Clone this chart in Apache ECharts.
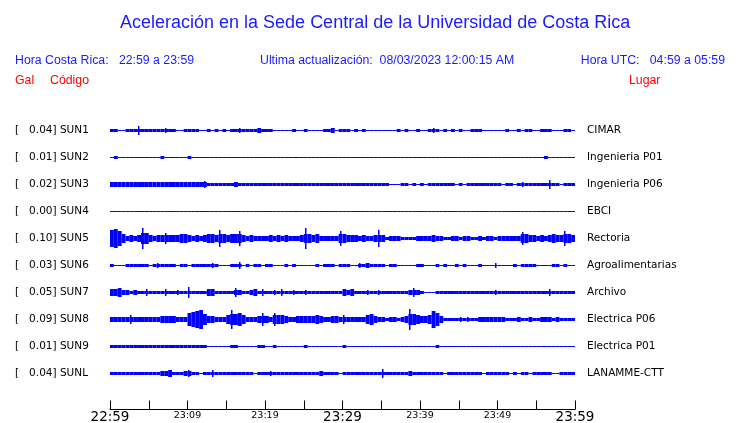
<!DOCTYPE html>
<html>
<head>
<meta charset="utf-8">
<script src="https://cdn.jsdelivr.net/npm/echarts@6/dist/echarts.min.js"></script>
<style>
  html, body { margin: 0; padding: 0; background: #fff; }
  #chart { width: 740px; height: 423px; }
</style>
</head>
<body>
<div id="chart"></div>
<script>
const stations = ['SUN1', 'SUN2', 'SUN3', 'SUN4', 'SUN5', 'SUN6', 'SUN7', 'SUN8', 'SUN9', 'SUNL']
const places = ['CIMAR', 'Ingenieria P01', 'Ingenieria P06', 'EBCI', 'Rectoria',
  'Agroalimentarias', 'Archivo', 'Electrica P06', 'Electrica P01', 'LANAMME-CTT']
const peaks = ['0.04', '0.01', '0.02', '0.00', '0.10', '0.03', '0.05', '0.09', '0.01', '0.04']
const timeLabels = ['22:59', '23:09', '23:19', '23:29', '23:39', '23:49', '23:59']

// envelope (half amplitude) per 30 s window, in thousandths of Gal
const sun1 = [10,10,8,0,15,17,17,47,17,15, 15,15,15,15,25,15,12,0,8,12, 10,12,10,8,0,10,0,12,0,12,
  0,18,15,25,12,12,10,12,20,12, 12,12,0,8,0,8,0,10,0,8, 12,8,0,8,0,10,10,20,8,10,
  10,10,8,10,8,12,0,0,0,0, 0,8,0,0,12,8,10,0,0,10, 0,8,10,25,10,8,10,8,10,8,
  10,0,8,12,12,10,0,8,8,8, 0,0,10,8,0,12,8,10,12,0, 8,10,10,10,8,0,8,14,14,8]
const sun2 = [0,10,8,5,5,0,0,0,0,0, 0,0,0,15,0,0,0,0,0,8, 10,0,0,0,0,0,0,0,0,0,
  0,0,0,0,0,0,0,0,0,0, 0,0,0,0,0,0,0,0,0,0, 0,0,0,0,0,0,0,0,0,0,
  0,0,0,0,0,0,0,0,0,0, 0,0,0,0,0,0,0,0,0,0, 0,0,0,0,0,0,0,0,0,0,
  0,0,0,0,0,0,0,0,0,0, 0,0,0,0,0,0,0,0,0,0, 0,0,15,0,0,0,0,0,0,0]
const sun3 = [20,27,20,20,20,20,20,20,25,20, 20,20,20,20,20,25,20,20,20,20, 20,20,20,20,30,18,18,18,18,18,
  18,18,25,18,18,18,18,18,18,12, 12,12,12,12,12,12,10,12,15,15, 15,15,10,15,15,15,15,15,12,15,
  15,15,15,15,15,15,12,15,12,12, 15,12,0,8,8,12,12,8,12,0, 12,0,10,15,15,15,12,12,10,0,
  12,8,10,12,15,12,10,12,10,12, 10,8,12,12,0,15,25,15,12,12, 10,15,15,40,12,10,0,15,15,15]
const sun4 = [0,0,0,0,0,0,0,0,0,0, 0,0,0,0,0,0,0,0,0,0, 0,0,0,0,0,0,0,0,0,0,
  0,0,0,0,0,0,0,0,0,0, 0,0,0,0,0,0,0,0,0,0, 0,0,0,0,0,0,0,0,0,0,
  0,0,0,0,0,0,0,0,0,0, 0,0,0,0,0,0,0,0,0,0, 0,0,0,0,0,0,0,0,0,0,
  0,0,0,0,0,0,0,0,0,0, 0,0,0,0,0,0,0,0,0,0, 0,0,0,0,0,0,0,0,0,0]
const sun5 = [85,90,70,40,28,30,28,30,100,50, 32,28,30,30,50,33,33,38,45,42, 30,28,30,28,35,45,48,35,80,40,
  38,42,48,70,32,25,30,28,24,24, 26,30,24,32,26,30,24,22,22,35, 100,40,38,45,28,25,25,28,28,70,
  45,32,30,30,28,30,28,28,30,85, 35,18,25,28,22,18,18,17,18,25, 28,25,28,30,28,20,18,18,25,20,
  18,20,25,18,18,20,18,25,22,18, 25,20,28,22,20,22,65,40,32,30, 28,30,28,35,40,38,30,75,40,32]
const sun6 = [10,5,8,8,13,18,10,10,10,10, 5,15,27,10,10,17,10,8,10,10, 8,10,10,12,17,12,27,12,8,5,
  8,13,15,33,5,10,5,10,10,5, 12,12,0,8,5,12,5,17,0,5, 8,0,8,10,0,10,10,12,5,12,
  12,12,5,0,27,10,20,15,10,12, 10,8,10,10,0,5,0,0,0,18, 15,0,0,0,10,8,10,0,0,10,
  0,10,0,0,0,12,0,8,0,27, 8,0,0,0,10,0,12,12,10,17, 5,0,0,8,10,10,0,10,0,8]
const sun7 = [35,30,40,22,20,15,20,15,15,33, 15,15,15,18,33,15,15,27,15,15, 55,15,15,15,18,30,30,15,15,15,
  15,18,40,25,15,15,25,30,15,30, 15,15,25,15,33,15,15,25,15,15, 25,15,15,15,13,13,15,13,15,15,
  30,25,30,15,15,15,25,15,15,27, 15,15,13,13,13,13,13,25,40,20, 10,5,8,5,10,12,12,12,12,12,
  12,12,10,12,12,10,12,12,15,25, 15,12,12,12,12,12,12,10,12,17, 12,12,12,33,12,12,10,17,12,12]
const sun8 = [25,22,25,22,22,40,20,22,25,22, 20,25,22,33,35,33,30,25,22,20, 60,70,85,95,50,30,35,20,28,20,
  45,90,55,60,40,25,28,25,35,65, 35,25,65,45,40,30,28,25,30,33, 35,30,35,40,30,20,25,35,30,28,
  40,25,22,22,22,25,40,55,30,25, 20,18,20,20,18,20,35,100,55,40, 35,35,40,80,60,35,17,17,17,17,
  25,17,25,17,18,28,22,20,20,25, 20,20,18,18,17,22,17,17,22,17, 17,22,22,20,17,22,17,17,17,17]
const sun9 = [10,10,10,10,10,10,10,10,10,10, 10,10,10,10,10,10,10,10,10,10, 10,10,10,10,10,5,8,0,0,0,
  5,10,10,8,5,8,0,0,10,10, 5,8,10,0,8,0,0,0,0,0, 10,5,5,0,0,0,5,8,8,5,
  10,0,0,5,5,0,8,8,0,0, 0,0,0,0,0,0,0,8,8,5, 0,0,0,8,10,0,0,0,0,0,
  0,0,0,0,0,5,0,0,0,0, 0,0,0,0,0,0,8,0,0,0, 0,5,5,0,0,0,0,0,0,0]
const sunL = [17,17,17,17,17,17,17,17,17,17, 17,17,17,20,28,30,18,17,17,20, 33,12,10,8,12,15,33,12,10,12,
  12,12,10,12,12,12,12,8,12,12, 12,27,12,12,12,12,12,12,12,12, 12,12,12,12,20,12,12,12,12,5,
  10,12,12,12,12,12,12,12,12,12, 40,12,12,12,12,12,12,20,12,12, 12,12,12,12,12,10,8,12,12,10,
  12,12,10,12,12,12,5,12,12,12, 12,12,12,5,12,8,10,12,5,10, 17,12,12,12,5,8,12,12,12,10]

const traces = [sun1, sun2, sun3, sun4, sun5, sun6, sun7, sun8, sun9, sunL]
const STEP = 0.5        // minutes per window
const PX_PER_GAL = 100  // vertical trace scale
const BLUE = '#0000ff'
const HEAD = '#1a1aff'

const data = []
traces.forEach((tr, row) => {
  tr.forEach((a, k) => {
    // neighbour level so that isolated peaks are drawn as thin spikes
    const side = Math.max(k > 0 ? tr[k - 1] : 0, k < tr.length - 1 ? tr[k + 1] : 0)
    data.push([k * STEP, row, a, side])
  })
})

function halfPx(a) {
  return Math.floor(a / 1000 * PX_PER_GAL) + 0.5
}

const chart = echarts.init(document.getElementById('chart'))

chart.setOption({
  animation: false,
  textStyle: { fontFamily: 'Liberation Sans' },
  title: {
    text: 'Aceleración en la Sede Central de la Universidad de Costa Rica',
    left: 115,
    top: 9,
    textStyle: { color: HEAD, fontSize: 18, fontWeight: 'normal', fontFamily: 'Liberation Sans' }
  },
  graphic: [
    { type: 'text', left: 15, top: 55, style: { text: 'Hora Costa Rica:   22:59 a 23:59', fill: HEAD, font: '12.3px "Liberation Sans"' } },
    { type: 'text', left: 260, top: 55, style: { text: 'Ultima actualización:  08/03/2023 12:00:15 AM', fill: HEAD, font: '12.3px "Liberation Sans"' } },
    { type: 'text', right: 15, top: 55, style: { text: 'Hora UTC:   04:59 a 05:59', fill: HEAD, font: '12.3px "Liberation Sans"' } },
    { type: 'text', left: 15, top: 75, style: { text: 'Gal', fill: '#ff0000', font: '12.3px "Liberation Sans"' } },
    { type: 'text', left: 50, top: 75, style: { text: 'Código', fill: '#ff0000', font: '12.3px "Liberation Sans"' } },
    { type: 'text', left: 629, top: 75, style: { text: 'Lugar', fill: '#ff0000', font: '12.3px "Liberation Sans"' } }
  ],
  grid: { left: 110, right: 165, top: 103.5, bottom: 22.5, outerBoundsMode: 'none', containLabel: false },
  xAxis: {
    type: 'value',
    position: 'bottom',
    min: 0,
    max: 60,
    interval: 5,
    offset: 9,
    axisLine: { onZero: false, lineStyle: { color: '#000', width: 1 } },
    axisTick: { inside: true, length: 9, lineStyle: { color: '#000' } },
    splitLine: { show: false },
    axisLabel: {
      margin: 1,
      formatter: v => {
        if (v % 10 !== 0) return ''
        const s = timeLabels[v / 10]
        return v % 30 === 0 ? '{big|' + s + '}' : '{small|' + s + '}'
      },
      rich: {
        big: { fontSize: 13.5, fontFamily: 'DejaVu Sans', color: '#000' },
        small: { fontSize: 9.5, fontFamily: 'DejaVu Sans', color: '#000' }
      }
    }
  },
  yAxis: [
    {
      type: 'value', inverse: true, min: -1, max: 10, interval: 1,
      axisLine: { show: false }, axisTick: { show: false }, splitLine: { show: false },
      axisLabel: {
        align: 'left', margin: 95, color: '#000', fontFamily: 'DejaVu Sans', fontSize: 10.5,
        padding: [2, 0, 0, 0],
        formatter: v => (v >= 0 && v <= 9) ? '[   ' + peaks[v] + '] ' + stations[v] : ''
      }
    },
    {
      type: 'value', inverse: true, min: -1, max: 10, interval: 1, position: 'right',
      axisLine: { show: false }, axisTick: { show: false }, splitLine: { show: false },
      axisLabel: {
        align: 'left', margin: 12, color: '#000', fontFamily: 'DejaVu Sans', fontSize: 10.5,
        padding: [2, 0, 0, 0],
        formatter: v => (v >= 0 && v <= 9) ? places[v] : ''
      }
    }
  ],
  series: [{
    type: 'custom',
    xAxisIndex: 0,
    yAxisIndex: 0,
    data: data,
    renderItem: (params, api) => {
      const t = api.value(0), row = api.value(1), amp = api.value(2), side = api.value(3)
      const p0 = api.coord([t, row])
      const p1 = api.coord([t + STEP, row])
      const w = p1[0] - p0[0]
      const h = halfPx(amp)
      if (amp > 20 && amp > side * 1.4) {
        // band at neighbour level plus a thin spike
        const hb = halfPx(Math.min(amp, side))
        return {
          type: 'group',
          children: [
            { type: 'rect', shape: { x: p0[0], y: p0[1] - hb, width: w, height: 2 * hb }, style: { fill: BLUE } },
            { type: 'rect', shape: { x: Math.round(p0[0] + w / 2) - 1, y: p0[1] - h, width: 1.5, height: 2 * h }, style: { fill: BLUE } }
          ]
        }
      }
      return {
        type: 'rect',
        shape: { x: p0[0], y: p0[1] - h, width: w, height: 2 * h },
        style: { fill: BLUE }
      }
    }
  }]
})
</script>
</body>
</html>
